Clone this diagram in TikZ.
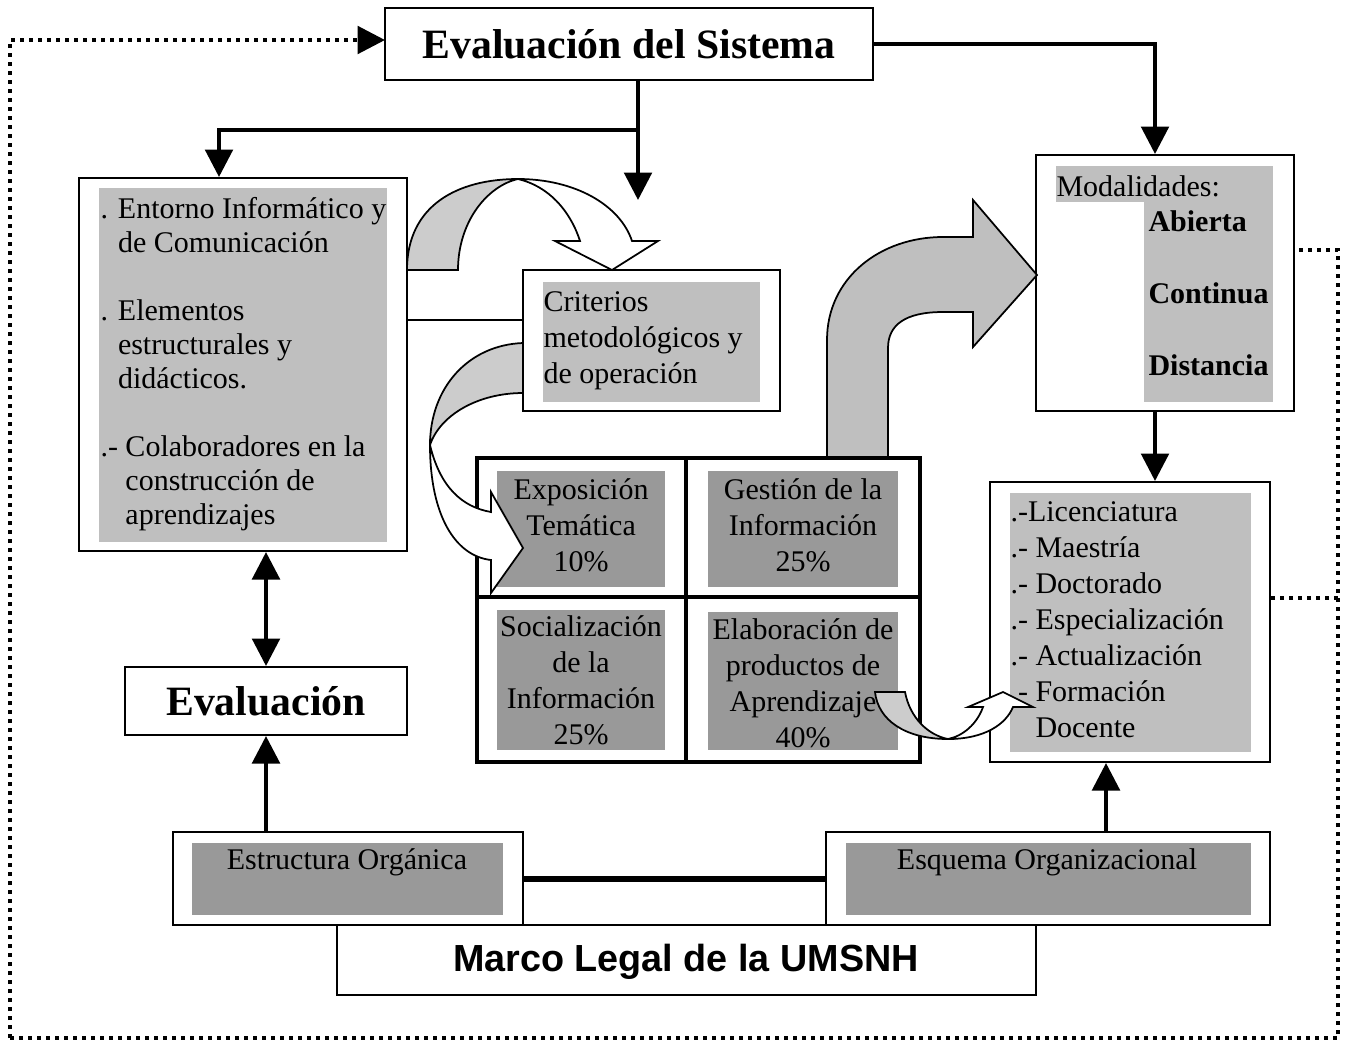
\documentclass[tikz,border=0pt]{standalone}
\usepackage{fontspec}
\setmainfont{Liberation Serif}
\newfontfamily\arialfont{Liberation Sans}
\usetikzlibrary{fit,arrows.meta}

\tikzset{
    caja/.style={draw, line width=0.8pt, inner sep=0pt},
    celda/.style={draw, line width=1.6pt, inner sep=0pt},
    gris/.style={fill=gray!50},
    oscuro/.style={fill=gray!80},
    curva/.style={draw, line width=0.7pt, line join=miter},
    flecha/.style={line width=1.6pt, -{Triangle[length=11pt, width=11pt]}},
    dobleflecha/.style={line width=1.6pt, {Triangle[length=11pt, width=11pt]}-{Triangle[length=11pt, width=11pt]}},
    lazo/.style={line width=1.6pt, dash pattern=on 1.6pt off 2pt},
    texto/.style={inner sep=0pt, align=left, anchor=north west, font=\fontsize{12}{14.4}\selectfont},
    centro/.style={inner sep=0pt, align=center, font=\fontsize{12}{14.4}\selectfont},
    titulo/.style={inner sep=0pt, font=\fontsize{16.7}{19}\selectfont\bfseries}
}
% strut that fixes the height of the first line
\newcommand{\tope}{\rule{0pt}{10pt}}

\begin{document}
\begin{tikzpicture}[x=0.4pt, y=-0.4pt]
    \useasboundingbox (0,0) rectangle (1350,1041);

    % Draw the outer dotted loop
    \draw[lazo] (10,1038) -- (1338,1038) -- (1338,250) -- (1294,250);
    \draw[lazo] (1338,598) -- (1270,598);
    \draw[lazo, -{Triangle[length=11pt, width=11pt]}] (10,1038) -- (10,40) -- (385,40);

    % Draw the boxes
    \node[caja, fit={(385,8) (873,80)}] (sistema) {};
    \node[caja, fit={(79,178) (407,551)}] (entorno) {};
    \node[caja, fit={(523,270) (780,411)}] (criterios) {};
    \node[caja, fit={(1036,155) (1294,411)}] (modalidades) {};
    \node[caja, fit={(990,482) (1270,762)}] (grado) {};
    \node[caja, fit={(125,667) (407,735)}] (evaluacion) {};
    \node[caja, fit={(173,832) (523,925)}] (estructura) {};
    \node[caja, fit={(826,832) (1270,925)}] (esquema) {};
    \node[caja, fit={(337,925) (1036,995)}] (marco) {};

    % Gray backgrounds of the texts
    \fill[gris] (99,188) rectangle (387,542);
    \fill[gris] (543,282) rectangle (760,402);
    \fill[gris] (1056,166) rectangle (1273,202);
    \fill[gris] (1144,202) rectangle (1273,402);
    \fill[gris] (1010,493) rectangle (1251,752);
    \fill[oscuro] (192,843) rectangle (503,915);
    \fill[oscuro] (846,843) rectangle (1251,915);

    % Texts
    \node[titulo] (tsistema) at (sistema) {Evaluación del Sistema};
    \node[titulo] (tevaluacion) at (evaluacion) {Evaluación};
    \node[inner sep=0pt, font=\arialfont\bfseries\fontsize{15.1}{18}\selectfont] (tmarco) at (686,962) {Marco Legal de la UMSNH};
    \node[texto, font=\fontsize{12}{13.6}\selectfont] (tentorno) at (100,193) {\tope. Entorno Informático y\\\phantom{. }de Comunicación\\[13.6pt]. Elementos\\\phantom{. }estructurales y\\\phantom{. }didácticos.\\[13.6pt].- Colaboradores en la\\\phantom{.- }construcción de\\\phantom{.- }aprendizajes};
    \node[texto] (tcriterios) at (543,286) {\tope Criterios\\metodológicos y\\de operación};
    \node[texto] (tmodalidades) at (1056,171) {\tope Modalidades:};
    \node[texto, font=\fontsize{12}{14.4}\selectfont\bfseries] (tabierta) at (1148,206) {\tope Abierta\\[14.4pt]Continua\\[14.4pt]Distancia};
    \node[texto] (tgrado) at (1010,496) {\tope.-Licenciatura\\.- Maestría\\.- Doctorado\\.- Especialización\\.- Actualización\\.- Formación\\\phantom{.- }Docente};
    \node[centro] (testructura) at (347,862) {Estructura Orgánica};
    \node[centro] (tesquema) at (1047,862) {Esquema Organizacional};

    % Connectors
    \coordinate (rama) at (638,130);
    \coordinate (caida) at (638,200);
    \draw[flecha] (sistema.east) -| ([xshift=-4pt]modalidades.north);
    \draw[line width=1.6pt] (sistema.south -| rama) -- (rama);
    \draw[flecha] (rama) -| ([xshift=-9.6pt]entorno.north);
    \draw[flecha] (rama) -- (caida);
    \draw[line width=0.8pt] (entorno.east |- 0,320) -- (criterios.west |- 0,320);
    \draw[flecha] (modalidades.south -| 1155,0) -- (grado.north -| 1155,0);
    \draw[flecha] (esquema.north -| 1106,0) -- (grado.south -| 1106,0);
    \draw[dobleflecha] (entorno.south -| evaluacion.north) -- (evaluacion.north);
    \draw[flecha] (estructura.north -| evaluacion.south) -- (evaluacion.south);
    \draw[line width=2.4pt] (estructura.east |- 0,879) -- (esquema.west |- 0,879);

    % Big gray arrow towards the modalities
    \filldraw[curva, fill=gray!50] (827,458) -- (827,340) .. controls (827,278) and (880,237) .. (943,237) -- (973,237) -- (973,200) -- (1037,275) -- (973,347) -- (973,312) -- (943,312) .. controls (905,312) and (888,325) .. (888,348) -- (888,458) -- cycle;

    % Draw the 2x2 grid
    \foreach \nombre/\xa/\ya/\xb/\yb in {expo/477/458/686/597, gestion/686/458/920/597, social/477/597/686/762, elabora/686/597/920/762} {
        \node[celda, fit={(\xa,\ya) (\xb,\yb)}] (\nombre) {};
    }
    \foreach \xa/\ya/\xb/\yb in {497/471/665/587, 708/471/898/587, 497/610/665/750, 708/612/898/750} {
        \fill[oscuro] (\xa,\ya) rectangle (\xb,\yb);
    }
    \node[centro] (texpo) at (581,525) {Exposición\\Temática\\10\%};
    \node[centro] (tgestion) at (803,525) {Gestión de la\\Información\\25\%};
    \node[centro] (tsocial) at (581,680) {Socialización\\de la\\Información\\25\%};
    \node[centro] (telabora) at (803,683) {Elaboración de\\productos de\\Aprendizaje\\40\%};

    % Curved arrows
    \filldraw[curva, fill=gray!40] (407,270) .. controls (407,205) and (458,179) .. (518,179) .. controls (487,186) and (458,222) .. (458,270) -- cycle;
    \filldraw[curva, fill=white] (518,179) .. controls (575,179) and (620,205) .. (632,241) -- (658,241) -- (612,270) -- (555,241) -- (580,241) .. controls (570,210) and (548,186) .. (518,179) -- cycle;

    \filldraw[curva, fill=gray!40] (523,343) .. controls (468,345) and (430,388) .. (430,445) .. controls (440,415) and (478,393) .. (523,393) -- cycle;
    \filldraw[curva, fill=white] (430,445) .. controls (430,515) and (455,556) .. (491,560) -- (491,593) -- (523,548) -- (491,492) -- (491,512) .. controls (462,507) and (440,487) .. (430,445) -- cycle;

    \filldraw[curva, fill=gray!40] (875,692) -- (905,692) .. controls (910,718) and (928,735) .. (948,739) .. controls (905,739) and (878,720) .. (875,692) -- cycle;
    \filldraw[curva, fill=white] (948,739) .. controls (985,739) and (1006,724) .. (1013,707) -- (1033,707) -- (1003,692) -- (968,707) -- (983,707) .. controls (977,724) and (963,736) .. (948,739) -- cycle;

\end{tikzpicture}
\end{document}
